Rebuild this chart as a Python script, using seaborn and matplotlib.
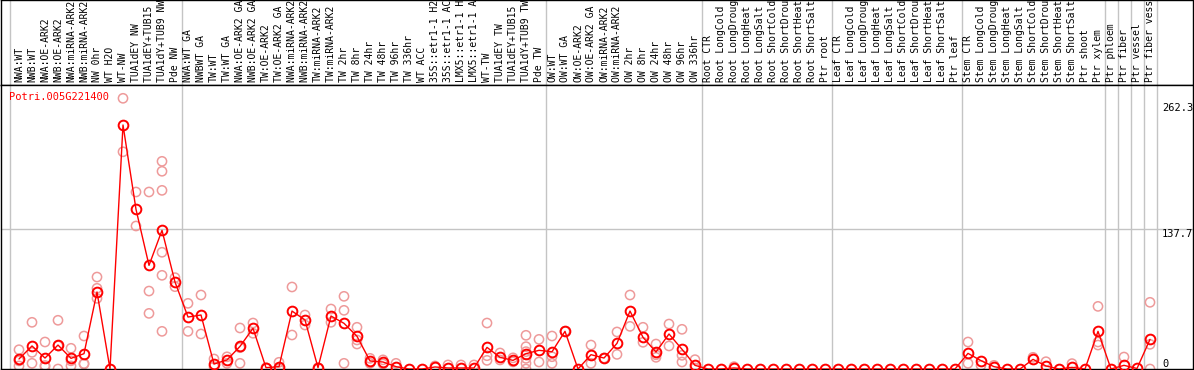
import numpy as np
import pandas as pd
import matplotlib
matplotlib.use("Agg")
import matplotlib.pyplot as plt
import matplotlib.transforms as mtransforms
import seaborn as sns

gene = "Potri.005G221400"

samples = [
    "NWA:WT", "NWB:WT", "NWA:OE-ARK2", "NWB:OE-ARK2", "NWA:miRNA-ARK2", "NWB:miRNA-ARK2",
    "NW 0hr", "WT H2O", "WT-NW", "TUA1dEY NW", "TUA1dEY+TUB15 NW", "TUA1dY+TUB9 NW", "Pde NW",
    "NWA:WT GA", "NWBWT GA", "TW:WT", "TW:WT GA", "NWA:OE-ARK2 GA", "NWB:OE-ARK2 GA",
    "TW:OE-ARK2", "TW:OE-ARK2 GA", "NWA:miRNA-ARK2 GA", "NWB:miRNA-ARK2 GA", "TW:miRNA-ARK2",
    "TW:miRNA-ARK2 GA", "TW 2hr", "TW 8hr", "TW 24hr", "TW 48hr", "TW 96hr", "TW 336hr",
    "WT ACC", "35S::etr1-1 H2O", "35S::etr1-1 ACC", "LMX5::etr1-1 H2O", "LMX5::etr1-1 ACC",
    "WT-TW", "TUA1dEY TW", "TUA1dEY+TUB15 TW", "TUA1dY+TUB9 TW", "Pde TW",
    "OW:WT", "OW:WT GA", "OW:OE-ARK2", "OW:OE-ARK2 GA", "OW:miRNA-ARK2", "OW:miRNA-ARK2 GA",
    "OW 2hr", "OW 8hr", "OW 24hr", "OW 48hr", "OW 96hr", "OW 336hr",
    "Root CTR", "Root LongCold", "Root LongDrought", "Root LongHeat", "Root LongSalt",
    "Root ShortCold", "Root ShortDrought", "Root ShortHeat", "Root ShortSalt", "Ptr root",
    "Leaf CTR", "Leaf LongCold", "Leaf LongDrought", "Leaf LongHeat", "Leaf LongSalt",
    "Leaf ShortCold", "Leaf ShortDrought", "Leaf ShortHeat", "Leaf ShortSalt", "Ptr leaf",
    "Stem CTR", "Stem LongCold", "Stem LongDrought", "Stem LongHeat", "Stem LongSalt",
    "Stem ShortCold", "Stem ShortDrought", "Stem ShortHeat", "Stem ShortSalt", "Ptr shoot",
    "Ptr xylem", "Ptr phloem", "Ptr fiber", "Ptr vessel", "Ptr fiber vessel",
]

# sample count per group (gray separator after each group)
group_sizes = [13, 28, 12, 10, 10, 11, 1, 1, 1, 1]

means = [
    9.9, 22.7, 10.8, 23.6, 10.5, 15.1, 75.9, 0, 240.4, 157.3, 102.1, 136.6, 85.7,
    51.2, 53.2, 4.9, 8.9, 22.3, 40.1, 1.3, 2.3, 57.1, 48.3, 1.3, 52.2, 45.0, 32.2,
    7.9, 6.9, 2.3, 0, 0, 2.0, 1.0, 1.0, 1.0, 21.3, 11.5, 8.5, 15.1, 18.4,
    17.0, 37.1, 0, 14.1, 10.8, 25.3, 57.1, 31.2, 16.7, 34.5, 19.4, 3.6,
    0, 0, 1.0, 0, 0, 0, 0, 0, 0, 0,
    0, 0, 0, 0, 0, 0, 0, 0, 0, 0,
    15.4, 8.2, 2.3, 0, 0, 9.5, 3.0, 0, 1.6, 0,
    37.1, 0, 3.6, 0.5, 29.2,
]

replicates = [
    [19, 3, 8], [46, 16.4, 5.6], [26.6, 2.3, 3.5], [48, 0, 22.8], [20.4, 3, 8.1],
    [32.5, 5.4, 4.9], [90.6, 79.5, 69.6], [], [266.7, 214], [174.4, 140.9],
    [174.4, 76.8, 54.8], [204.6, 194.8, 176, 115, 92.3, 37.1], [90, 81.1],
    [64.7, 37.1], [72.9, 34.5], [9.9, 2.3], [5.6, 12], [40.4, 5.6, 21], [45.3, 35.2],
    [1.3], [6.6, 0], [80.8, 33.5], [53.2, 43.3], [1.3], [59.1, 46], [71.6, 57.8, 5.6],
    [41.1, 28.6, 24.6], [10.5, 5.6], [9, 4.9], [5.6], [], [], [3], [4], [4], [4],
    [45.3, 13.1, 8.5], [15.8, 8.9], [11, 7], [33.2, 22, 17.1, 10.5, 5.6, 0], [29.2, 6.9],
    [32.5, 12.1, 5.6], [37.1], [], [23.6, 5.6], [10.8], [36.5, 14.4], [72.9, 42],
    [41.1, 26.3], [24.6, 11.5, 14], [44.3, 22.7], [39.1, 13.5, 6.9], [9.2, 1],
    [], [], [2.3], [], [], [], [], [], [], [],
    [], [], [], [], [], [], [], [], [], [],
    [26.6, 5.6], [3.6], [3.6], [], [], [11.5], [7.2], [], [5.3], [],
    [61.7, 26.6, 23.6], [], [11.8], [], [65.7, 24.3, 0],
]

y_ticks = [262.3, 137.7, 0]

# ---- layout ----
W, H = 1194, 370
head_px = 85
mono = "DejaVu Sans Mono"

sns.set_style("white")
plt.rcParams["font.family"] = [mono, "DejaVu Sans"]

x = np.arange(len(samples))
xlim = (-18 / 13, 1174 / 13)
seps = [-0.7] + list(np.cumsum(group_sizes) - 0.5)

fig = plt.figure(figsize=(W / 100, H / 100), dpi=100)
hax = fig.add_axes([1 / W, (H - head_px) / H, (W - 2) / W, head_px / H])
ax = fig.add_axes([1 / W, 1 / H, (W - 2) / W, (head_px - 1) / H * 0 + (H - head_px - 1) / H])

for a in (hax, ax):
    a.set_xlim(*xlim)
    a.set_xticks([])
    a.set_yticks([])
    for s in a.spines.values():
        s.set_color("black")
        s.set_linewidth(1.0)
    for p in seps:
        a.axvline(p, color="#c4c4c4", lw=1, zorder=0)

# header: rotated sample names
hax.set_ylim(0, head_px)
for i, name in enumerate(samples):
    hax.text(i, 3, name, rotation=90, ha="center", va="bottom", fontsize=7,
             family=mono, color="black", clip_on=True)

# main plot
ax.set_ylim(0, 284 / 1.015)
ax.axhline(137.7, color="#c4c4c4", lw=1, zorder=0)

rep_df = pd.DataFrame(
    [(i, v) for i, vals in enumerate(replicates) for v in vals], columns=["x", "y"]
)
sns.scatterplot(data=rep_df, x="x", y="y", ax=ax, s=44, marker="o",
                facecolor="none", edgecolor="#ee9a9a", linewidth=1.1, zorder=2,
                clip_on=True)
sns.lineplot(x=x, y=means, ax=ax, color="red", lw=1, marker="o", markersize=7,
             markerfacecolor="none", markeredgecolor="red", markeredgewidth=1.4,
             zorder=3)
ax.set_xlim(*xlim)
ax.set_xlabel("")
ax.set_ylabel("")
ax.set_xticks([])
ax.set_yticks([])

ax.text(8 / (W - 2), 1 - 7 / (H - head_px), gene, transform=ax.transAxes,
        color="red", fontsize=7.5, family=mono, va="top", ha="left")

trans = mtransforms.blended_transform_factory(ax.transAxes, ax.transData)
for t in y_ticks:
    label = "0" if t == 0 else f"{t:.1f}"
    ax.text((1162 - 1) / (W - 2), t, label, transform=trans, fontsize=7.5,
            family=mono, color="black", ha="left",
            va="bottom" if t == 0 else "top")

fig.savefig("out.png", dpi=100)
